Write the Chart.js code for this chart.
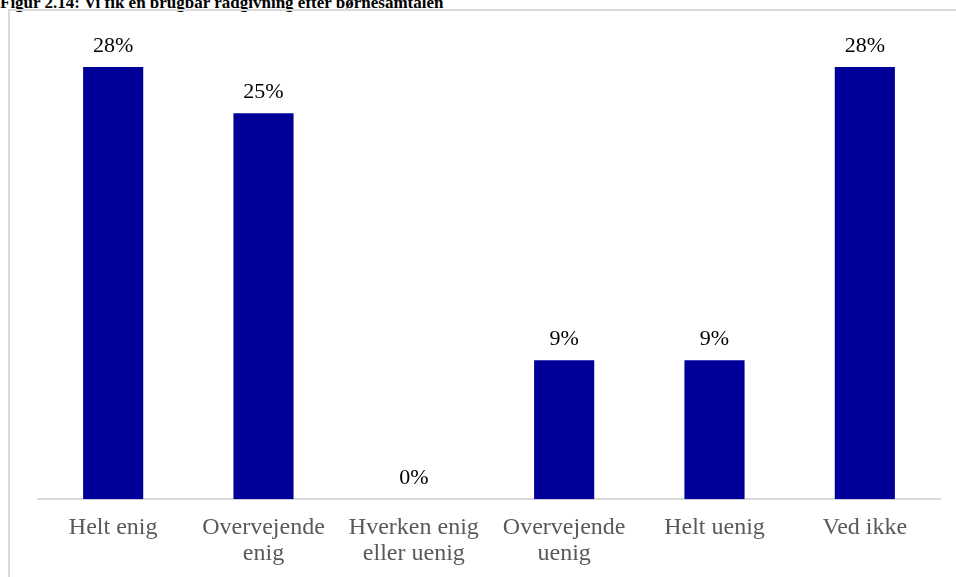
<!DOCTYPE html>
<html>
<head>
<meta charset="utf-8">
<script src="https://cdn.jsdelivr.net/npm/chart.js@4"></script>
<style>
  body { margin: 0; background: #fff; overflow: hidden; }
  #titel {
    position: absolute; left: 0; top: -7px;
    font: bold 17px "Liberation Serif", "Times New Roman", serif;
    color: #000; white-space: nowrap;
  }
  #ramme {
    position: absolute; left: 8px; top: 9px; width: 960px; height: 580px;
    border-left: 2px solid #d9d9d9; border-top: 2px solid #d9d9d9;
  }
  #wrap { position: absolute; left: 0; top: 0; width: 956px; height: 574px; }
</style>
</head>
<body>
<div id="titel">Figur 2.14: Vi fik en brugbar rådgivning efter børnesamtalen</div>
<div id="ramme"></div>
<div id="wrap"><canvas id="myChart"></canvas></div>
<script>
// kategorier og andele (procent)
const kategorier = [
    ['Helt enig'],
    ['Overvejende', 'enig'],
    ['Hverken enig', 'eller uenig'],
    ['Overvejende', 'uenig'],
    ['Helt uenig'],
    ['Ved ikke']
];
const andele = [28, 25, 0, 9, 9, 28];

// skriver procenten over hver søjle
const procentLabels = {
    id: 'procentLabels',
    afterDatasetsDraw(chart) {
        const c = chart.ctx;
        const meta = chart.getDatasetMeta(0);
        c.save();
        c.font = '22px "Liberation Serif", "Times New Roman", serif';
        c.fillStyle = '#000';
        c.textAlign = 'center';
        c.textBaseline = 'alphabetic';
        meta.data.forEach(function(bar, i) {
            c.fillText(andele[i] + '%', bar.x, bar.y - 15);
        });
        c.restore();
    }
};

const ctx = document.getElementById('myChart').getContext('2d');
new Chart(ctx, {
    type: 'bar',
    data: {
        labels: kategorier,
        datasets: [{
            data: andele,
            backgroundColor: '#000099',
            barPercentage: 0.4,
            categoryPercentage: 1.0
        }]
    },
    options: {
        responsive: true,
        maintainAspectRatio: false,
        animation: false,
        layout: { padding: { left: 38, right: 16, top: 36, bottom: 0 } },
        plugins: {
            legend: { display: false },
            tooltip: { enabled: false }
        },
        scales: {
            x: {
                grid: { display: false },
                border: { color: '#d9d9d9', width: 2 },
                ticks: {
                    color: '#595959',
                    padding: 7,
                    maxRotation: 0,
                    font: { family: '"Liberation Serif", "Times New Roman", serif', size: 24, lineHeight: 1.1 }
                }
            },
            y: {
                display: false,
                min: 0,
                max: 30
            }
        }
    },
    plugins: [procentLabels]
});
</script>
</body>
</html>
